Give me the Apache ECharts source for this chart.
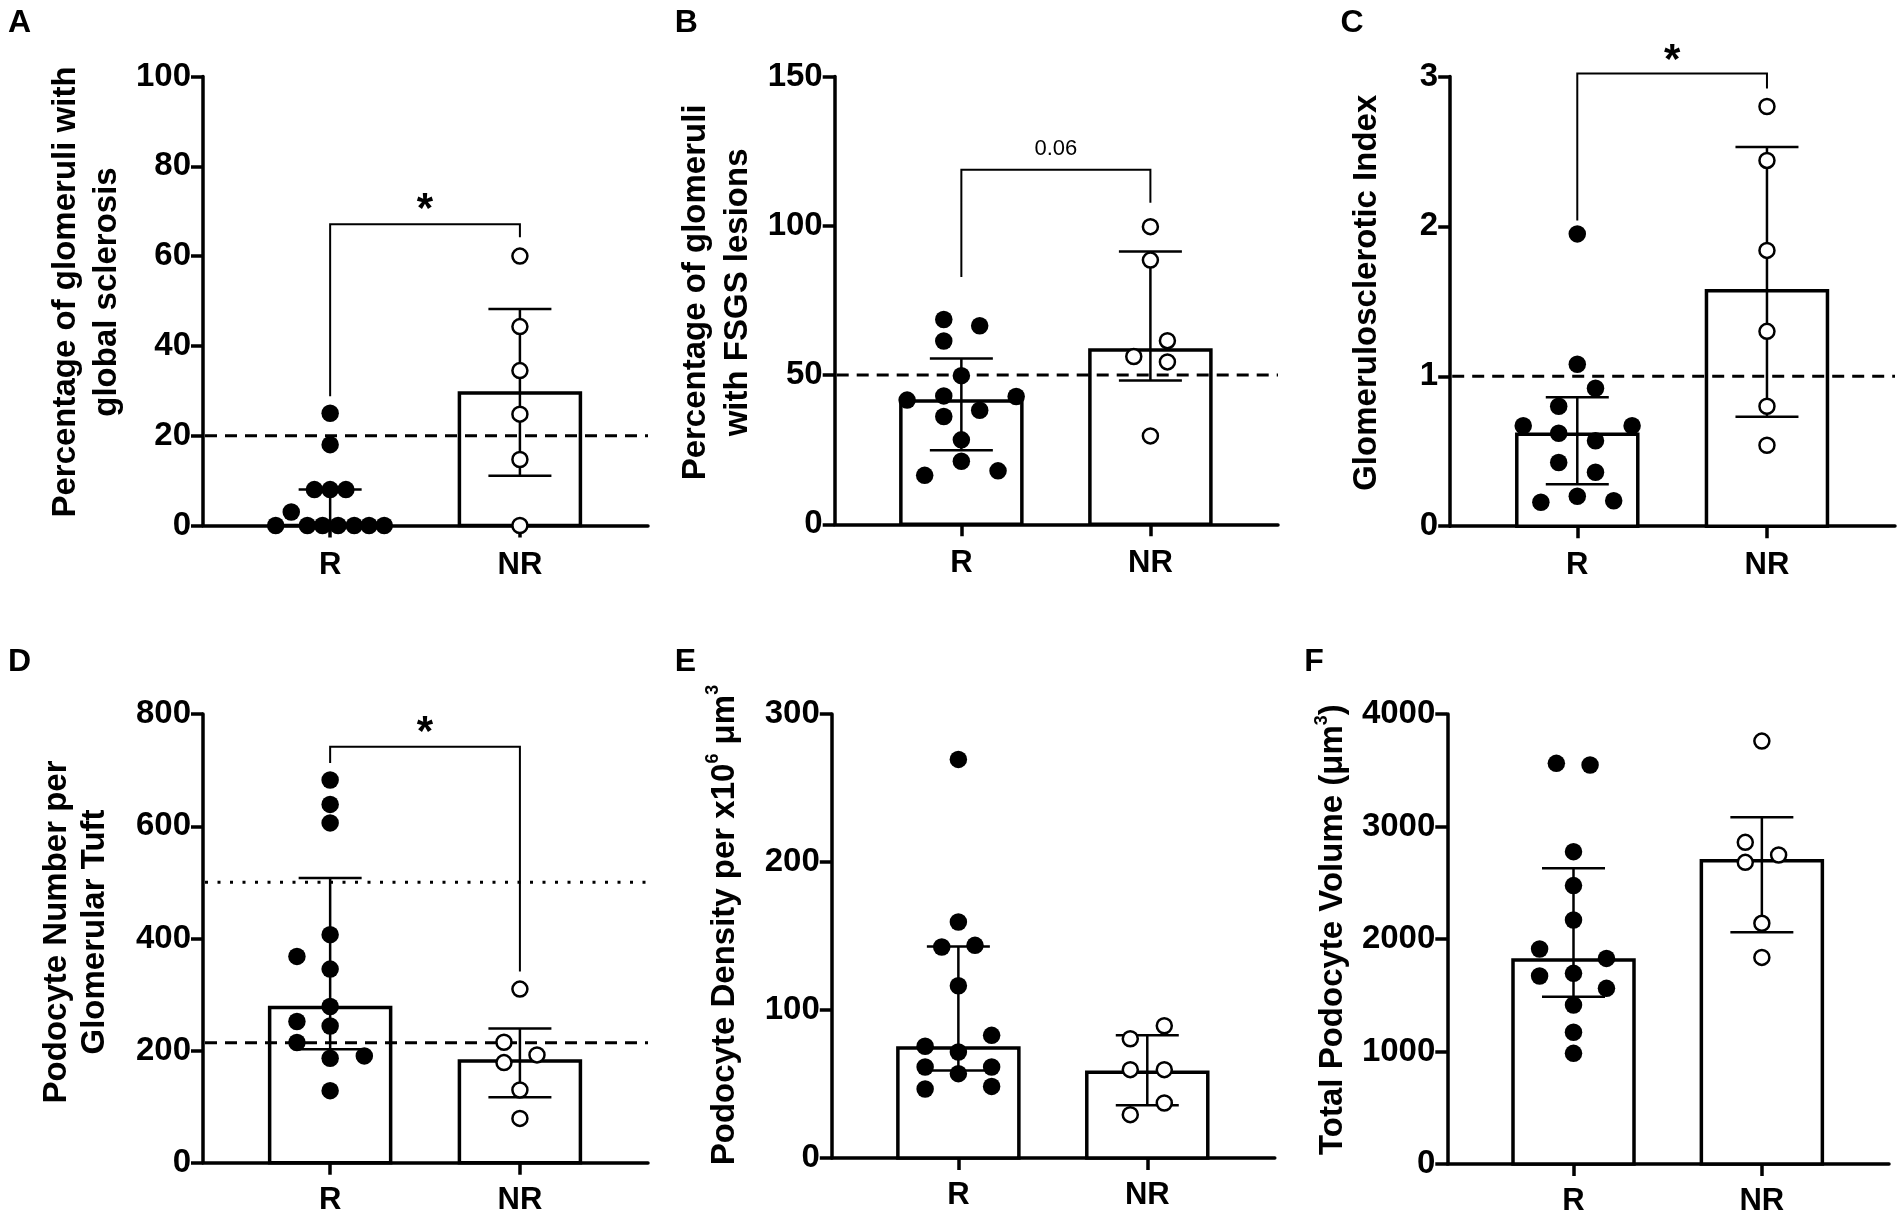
<!DOCTYPE html>
<html><head><meta charset="utf-8">
<script src="https://cdn.jsdelivr.net/npm/echarts@6/dist/echarts.min.js"></script>
<style>html,body{margin:0;padding:0;background:#fff}#c{width:1902px;height:1217px}</style>
</head><body><div id="c"></div>
<script>
// ---------- DATA ----------
const groups = ['R', 'NR'];
const panelLetters = ['A', 'B', 'C', 'D', 'E', 'F'];
const yMaxes = [100, 150, 3, 800, 300, 4000];
const yIntervals = [20, 50, 1, 200, 100, 1000];

// A: % glomeruli with global sclerosis
const aR = [25, 18, 8, 8, 8, 3, 0, 0, 0, 0, 0, 0, 0];
const aNR = [60, 44.3, 34.5, 24.8, 14.7, 0];
const aBar = [0, 29.5];
const aLo = [0, 11.1];
const aHi = [8, 48.2];
const aRef = [20];
const aBracket = [28.8, 67.1, 64.2, 70.2];
const aSig = '*';

// B: % glomeruli with FSGS lesions
const bR = [68.6, 66.5, 61.4, 49.8, 43, 41.6, 42.8, 38.2, 36.1, 28.3, 21.1, 16.4, 17.9];
const bNR = [99.7, 88.5, 61.5, 56.2, 54.4, 29.6];
const bBar = [41.3, 58.4];
const bLo = [24.8, 48.2];
const bHi = [55.5, 91.4];
const bRef = [50];
const bBracket = [82.8, 118.8, 107.7, 125.9];
const bSig = '0.06';

// C: Glomerulosclerotic index
const cR = [1.95, 1.08, 0.92, 0.80, 0.67, 0.67, 0.62, 0.57, 0.425, 0.36, 0.20, 0.16, 0.17];
const cNR = [2.80, 2.44, 1.84, 1.30, 0.80, 0.54];
const cBar = [0.614, 1.57];
const cLo = [0.28, 0.73];
const cHi = [0.86, 2.53];
const cRef = [1];
const cBracket = [2.04, 3.02, 2.92, 3.10];
const cSig = '*';

// D: Podocyte number per glomerular tuft
const dR = [682.5, 639, 606, 406.8, 368, 345.4, 278.7, 252, 244, 214.4, 186.4, 190.6, 128.6];
const dNR = [309.7, 215, 192.4, 178.7, 129.8, 79.2];
const dBar = [277, 181.7];
const dLo = [202.5, 116.7];
const dHi = [508, 239.4];
const dRefDashed = [214];
const dRefDotted = [500];
const dBracket = [713, 742, 341, 765];
const dSig = '*';

// E: Podocyte density
const eR = [269.4, 159.5, 142.6, 143.7, 116.4, 82.9, 75.5, 71.6, 61.5, 57, 61.5, 46.6, 48.4];
const eNR = [89.4, 80.6, 59.7, 59.7, 37.2, 29.3];
const eBar = [74.3, 57.9];
const eLo = [59.2, 35.6];
const eHi = [143, 82.9];

// F: Total podocyte volume
const fR = [3562, 3547, 2777, 2475, 2169, 1911, 1828, 1671, 1695, 1562, 1414, 1171, 984];
const fNR = [3760, 2860, 2747, 2682, 2140, 1837];
const fBar = [1814, 2697];
const fLo = [1488, 2060];
const fHi = [2629, 3082];

// horizontal jitter of the dots (category units)
const jAR = [0, 0, -0.083, 0, 0.083, -0.205, -0.287, -0.12, -0.04, 0.042, 0.127, 0.205, 0.285];
const jANR = [0, 0, 0, 0, 0, 0];
const jBR = [-0.093, 0.097, -0.093, 0, -0.093, -0.287, 0.29, 0.097, -0.093, 0, 0, -0.194, 0.194];
const jBNR = [0, 0, 0.09, -0.088, 0.09, 0];
const jCR = [0, 0, 0.096, -0.098, -0.285, 0.289, -0.098, 0.096, -0.098, 0.096, 0, -0.192, 0.192];
const jCNR = [0, 0, 0, 0, 0, 0];
const jDR = [0, 0, 0, 0, -0.175, 0, 0, -0.175, 0, -0.175, 0, 0.18, 0];
const jDNR = [0, -0.084, 0.09, -0.084, 0, 0];
const jER = [0, 0, -0.088, 0.088, 0, 0.176, -0.176, 0, -0.176, 0, 0.176, -0.176, 0.176];
const jENR = [0.09, -0.09, -0.09, 0.09, 0.09, -0.09];
const jFR = [-0.091, 0.088, 0, 0, 0, -0.18, 0.175, -0.18, 0, 0.175, 0, 0, 0];
const jFNR = [0, -0.088, 0.089, -0.088, 0, 0];

// axis titles
const titleA = 'Percentage of glomeruli with\nglobal sclerosis';
const titleB = 'Percentage of glomeruli\nwith FSGS lesions';
const titleC = 'Glomerulosclerotic Index';
const titleD = 'Podocyte Number per\nGlomerular Tuft';
const titleE = '{m|Podocyte Density per x10}{s|6}{m| \u03bcm}{s|3}';
const titleF = '{m|Total Podocyte Volume (\u03bcm}{s|3}{m|)}';

// ---------- LAYOUT / STYLE ----------
const FONT = "'Liberation Sans', Arial, Helvetica, sans-serif";
const XMIN = 0.33, XMAX = 2.675;
const BAR_W = 121, CAP_W = 63;

const supRich = {
  m: {fontSize: 33, fontWeight: 'bold', fontFamily: FONT, color: '#000', lineHeight: 41},
  s: {fontSize: 18, fontWeight: 'bold', fontFamily: FONT, color: '#000', verticalAlign: 'top'}
};

const panels = [
  {R: aR, NR: aNR, jR: jAR, jNR: jANR, bar: aBar, lo: aLo, hi: aHi, dashed: aRef, dotted: [], bracket: aBracket, sig: aSig, title: titleA,
   grid: {left: 203, top: 76.5, width: 445, height: 449}, gap: 75.5, lh: 41, shift: 9, letterPos: [8, 7.5], xm: 24},
  {R: bR, NR: bNR, jR: jBR, jNR: jBNR, bar: bBar, lo: bLo, hi: bHi, dashed: bRef, dotted: [], bracket: bBracket, sig: bSig, title: titleB,
   grid: {left: 834.7, top: 76.5, width: 443.3, height: 447.8}, gap: 75.4, lh: 42, shift: 8, letterPos: [674.7, 7.5], xm: 24},
  {R: cR, NR: cNR, jR: jCR, jNR: jCNR, bar: cBar, lo: cLo, hi: cHi, dashed: cRef, dotted: [], bracket: cBracket, sig: cSig, title: titleC,
   grid: {left: 1450.2, top: 76.5, width: 444.8, height: 449.7}, gap: 62.3, lh: 41, shift: 8.6, letterPos: [1340.5, 7.5], xm: 24},
  {R: dR, NR: dNR, jR: jDR, jNR: jDNR, bar: dBar, lo: dLo, hi: dHi, dashed: dRefDashed, dotted: dRefDotted, bracket: dBracket, sig: dSig, title: titleD,
   grid: {left: 203, top: 714.1, width: 445, height: 448.7}, gap: 88.6, lh: 38, shift: 6.5, letterPos: [8, 646], xm: 22},
  {R: eR, NR: eNR, jR: jER, jNR: jENR, bar: eBar, lo: eLo, hi: eHi, dashed: [], dotted: [], bracket: null, sig: '', title: titleE,
   grid: {left: 831.8, top: 714.1, width: 443, height: 443.9}, gap: 86.8, lh: 41, shift: 11, letterPos: [674.7, 646], xm: 22, rich: supRich},
  {R: fR, NR: fNR, jR: jFR, jNR: jFNR, bar: fBar, lo: fLo, hi: fHi, dashed: [], dotted: [], bracket: null, sig: '', title: titleF,
   grid: {left: 1447.3, top: 714.1, width: 441.7, height: 449.9}, gap: 93.6, lh: 41, shift: 9.5, letterPos: [1304.3, 646], xm: 22, rich: supRich}
];

const grids = [], xAxes = [], yAxes = [], series = [], graphics = [];

panels.forEach((p, i) => {
  grids.push(Object.assign({containLabel: false, outerBoundsMode: 'none'}, p.grid));
  xAxes.push({
    gridIndex: i, type: 'value', min: XMIN, max: XMAX,
    splitLine: {show: false},
    axisLine: {show: true, onZero: false, lineStyle: {color: '#000', width: 3.5}},
    axisTick: {show: true, length: 12, customValues: [1, 2], lineStyle: {color: '#000', width: 3.5}},
    axisLabel: {show: true, customValues: [1, 2], margin: p.xm, formatter: v => groups[Math.round(v) - 1] || '',
      fontFamily: FONT, fontSize: 31, fontWeight: 'bold', color: '#000'}
  });
  const nts = {fontFamily: FONT, fontSize: 33, fontWeight: 'bold', color: '#000', lineHeight: p.lh, padding: [0, 0, 0, p.shift * 2]};
  if (p.rich) nts.rich = p.rich;
  yAxes.push({
    gridIndex: i, type: 'value', min: 0, max: yMaxes[i], interval: yIntervals[i],
    name: p.title, nameLocation: 'middle', nameRotate: 90, nameGap: p.gap, nameMoveOverlap: false,
    nameTextStyle: nts,
    splitLine: {show: false},
    axisLine: {show: true, lineStyle: {color: '#000', width: 3.5}},
    axisTick: {show: true, length: 12, lineStyle: {color: '#000', width: 3.5}},
    axisLabel: {show: true, margin: 12, formatter: v => String(v), fontFamily: FONT, fontSize: 33, fontWeight: 'bold', color: '#000'}
  });

  // bars (median)
  series.push({
    type: 'custom', xAxisIndex: i, yAxisIndex: i, z: 2, silent: true,
    data: p.bar.map((v, k) => [k + 1, v]),
    encode: {x: 0, y: 1},
    renderItem: (params, api) => {
      const top = api.coord([api.value(0), api.value(1)]);
      const base = api.coord([api.value(0), 0]);
      return {type: 'rect', shape: {x: top[0] - BAR_W / 2, y: top[1], width: BAR_W, height: base[1] - top[1]},
        style: {fill: '#fff', stroke: '#000', lineWidth: 3.5}};
    }
  });

  // reference lines
  const refs = p.dashed.map(v => [v, 0]).concat(p.dotted.map(v => [v, 1]));
  if (refs.length) {
    series.push({
      type: 'custom', xAxisIndex: i, yAxisIndex: i, z: 3, silent: true,
      data: refs, encode: {y: 0},
      renderItem: (params, api) => {
        const a = api.coord([XMIN, api.value(0)]);
        const b = api.coord([XMAX, api.value(0)]);
        const dotted = api.value(1) === 1;
        return {type: 'line', shape: {x1: a[0] + 2, y1: a[1], x2: b[0], y2: b[1]},
          style: {stroke: '#000', lineWidth: 3, lineDash: dotted ? [3, 9.5] : [12, 8], lineCap: 'butt'}};
      }
    });
  }

  // error bars
  series.push({
    type: 'custom', xAxisIndex: i, yAxisIndex: i, z: 4, silent: true,
    data: p.lo.map((v, k) => [k + 1, v, p.hi[k]]),
    encode: {x: 0, y: [1, 2]},
    renderItem: (params, api) => {
      const x = api.value(0);
      const lo = api.coord([x, api.value(1)]);
      const hi = api.coord([x, api.value(2)]);
      const st = {stroke: '#000', lineWidth: 2.5};
      return {type: 'group', children: [
        {type: 'line', shape: {x1: lo[0], y1: lo[1], x2: hi[0], y2: hi[1]}, style: st},
        {type: 'line', shape: {x1: hi[0] - CAP_W / 2, y1: hi[1], x2: hi[0] + CAP_W / 2, y2: hi[1]}, style: st},
        {type: 'line', shape: {x1: lo[0] - CAP_W / 2, y1: lo[1], x2: lo[0] + CAP_W / 2, y2: lo[1]}, style: st}
      ]};
    }
  });

  // significance bracket
  if (p.bracket) {
    const isStar = p.sig === '*';
    series.push({
      type: 'custom', xAxisIndex: i, yAxisIndex: i, z: 5, silent: true,
      data: [p.bracket], encode: {y: [0, 1, 2, 3]},
      renderItem: (params, api) => {
        const p1 = api.coord([1, api.value(0)]);
        const p2 = api.coord([1, api.value(1)]);
        const p3 = api.coord([2, api.value(1)]);
        const p4 = api.coord([2, api.value(2)]);
        const t = api.coord([1.5, api.value(3)]);
        return {type: 'group', children: [
          {type: 'polyline', shape: {points: [p1, p2, p3, p4]}, style: {stroke: '#000', lineWidth: 2, fill: null}},
          {type: 'text', x: t[0], y: t[1], style: {text: p.sig, fill: '#000', align: 'center', verticalAlign: 'middle',
            font: isStar ? 'bold 42px ' + FONT : 'normal 22px ' + FONT}}
        ]};
      }
    });
  }

  // dots
  series.push({
    type: 'scatter', xAxisIndex: i, yAxisIndex: i, z: 6, silent: true,
    symbol: 'circle', symbolSize: 17.5,
    itemStyle: {color: '#000', opacity: 1},
    data: p.R.map((v, k) => [1 + p.jR[k], v])
  });
  series.push({
    type: 'scatter', xAxisIndex: i, yAxisIndex: i, z: 6, silent: true,
    symbol: 'circle', symbolSize: 15,
    itemStyle: {color: '#fff', borderColor: '#000', borderWidth: 2.5, opacity: 1},
    data: p.NR.map((v, k) => [2 + p.jNR[k], v])
  });

  graphics.push({type: 'text', left: p.letterPos[0], top: p.letterPos[1], silent: true,
    style: {text: panelLetters[i], fill: '#000', font: 'bold 32px ' + FONT}});
});

const chart = echarts.init(document.getElementById('c'), null, {renderer: 'canvas'});
chart.setOption({
  animation: false,
  backgroundColor: '#fff',
  grid: grids, xAxis: xAxes, yAxis: yAxes, series: series, graphic: graphics,
  tooltip: {show: false}
});
</script></body></html>
